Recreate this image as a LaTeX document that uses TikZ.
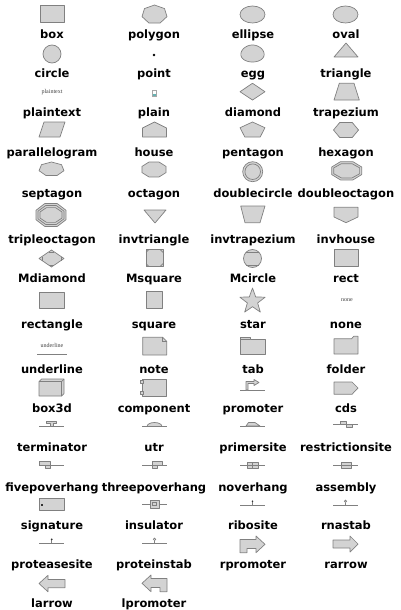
\documentclass[tikz,border=0pt]{standalone}
\usepackage{fontspec}
\newfontfamily\lblf{DejaVu Sans}
\newfontfamily\tinyf{Liberation Serif}
\definecolor{fillg}{RGB}{211,211,211}
\definecolor{lineg}{RGB}{128,128,128}
\newcommand\ngon[7]{% cx cy n rx ry start lastindex
  \draw[shp] plot[domain=0:#7, samples=#3] ({#1+#4*cos(#6+360*\x/#3)},{#2+#5*sin(#6+360*\x/#3)}) -- cycle;}
\begin{document}
\begin{tikzpicture}[x=1pt,y=-1pt,
  shp/.style={draw=lineg, fill=fillg, line width=0.7pt, line join=round},
  gline/.style={draw=lineg, line width=0.7pt},
  lbl/.style={font=\lblf\bfseries\fontsize{11.5}{13}\selectfont, anchor=base, inner sep=0pt},
  tiny/.style={font=\tinyf\fontsize{6}{7}\selectfont, text=black!75, inner sep=0pt}]
\useasboundingbox (0,0) rectangle (400,610);
% ---------------- labels
\foreach \y/\a/\b/\c/\d [count=\r] in {34/box/polygon/ellipse/oval, 73/circle/point/egg/triangle, 112/plaintext/plain/diamond/trapezium, 152/parallelogram/house/pentagon/hexagon, 193/septagon/octagon/doublecircle/doubleoctagon, 239/tripleoctagon/invtriangle/invtrapezium/invhouse, 278/Mdiamond/Msquare/Mcircle/rect, 324/rectangle/square/star/none, 369/underline/note/tab/folder, 408/box3d/component/promoter/cds, 447/terminator/utr/primersite/restrictionsite, 487/fivepoverhang/threepoverhang/noverhang/assembly, 525/signature/insulator/ribosite/rnastab, 564/proteasesite/proteinstab/rpromoter/rarrow}{
  \node[lbl] (la\r) at (52,\y+4.5) {\a};
  \node[lbl] (lb\r) at (154,\y+4.5) {\b};
  \node[lbl] (lc\r) at (253,\y+4.5) {\c};
  \node[lbl] (ld\r) at (346,\y+4.5) {\d};
}
\node[lbl] (la15) at (52,607.5) {larrow};
\node[lbl] (lb15) at (154,607.5) {lpromoter};
% ---------------- row 1
\draw[shp] (40,5) rectangle (64,22);
\ngon{154.5}{14.5}{7}{12.8}{9.5}{-90}{6}
\draw[shp] (252.5,14.5) ellipse [x radius=12.5, y radius=8.5];
\draw[shp] (345.5,14.5) ellipse [x radius=12.5, y radius=8.5];
% ---------------- row 2
\draw[shp] (52,54) circle [radius=9];
\fill (154,55) circle [radius=1.4];
\draw[shp] plot[domain=0:360, samples=72, smooth] ({252.5+11.6*cos(\x)*(1+0.1*sin(\x))},{53.5+8.5*sin(\x)}) -- cycle;
\draw[shp] (346,43) -- (358,57) -- (334,57) -- cycle;
% ---------------- row 3
\node[tiny] (pt) at (52,92) {plaintext};
\draw[black!35, fill=white, line width=0.4pt] (151.8,90.3) rectangle (156.6,96.5);
\fill[teal!60] (152.5,94.2) rectangle (155.9,95.8);
\draw[shp] (240,91.7) -- (252.5,83.3) -- (265,91.7) -- (252.5,100) -- cycle;
\draw[shp] (334,100) -- (339.3,83.3) -- (354,83.3) -- (359.3,100) -- cycle;
% ---------------- row 4
\draw[shp] (39,137) -- (44,122) -- (65,122) -- (60,137) -- cycle;
\draw[shp] (154.5,122) -- (166.5,128) -- (166.5,137) -- (142.5,137) -- (142.5,128) -- cycle;
\ngon{252.5}{130.3}{5}{13.1}{8.3}{-90}{4}
\ngon{346}{130}{6}{12.5}{8.7}{0}{5}
% ---------------- row 5
\ngon{51.5}{169.1}{7}{12.8}{7.1}{-90}{6}
\ngon{154}{169.5}{8}{13}{8.1}{22.5}{7}
\draw[shp] (252.7,171.7) circle [radius=10];
\draw[shp] (252.7,171.7) circle [radius=7.8];
\ngon{346.7}{170.8}{8}{16.2}{9.9}{22.5}{7}
\ngon{346.7}{170.8}{8}{14}{7.7}{22.5}{7}
% ---------------- row 6
\ngon{51}{215}{8}{16.2}{12.4}{22.5}{7}
\ngon{51}{215}{8}{14}{10.2}{22.5}{7}
\ngon{51}{215}{8}{11.8}{8}{22.5}{7}
\draw[shp] (144,210) -- (166,210) -- (155,223) -- cycle;
\draw[shp] (240.7,206) -- (265,206) -- (260,222.7) -- (245,222.7) -- cycle;
\draw[shp] (334,207.3) -- (358,207.3) -- (358,217) -- (346,222.7) -- (334,217) -- cycle;
% ---------------- row 7
\draw[shp] (39,258.5) -- (51.5,250) -- (64,258.5) -- (51.5,267) -- cycle;
\draw[gline] (42,256.5) -- (42,260.5) (61,256.5) -- (61,260.5)
  (48.6,252) -- (54.4,252) (48.6,265) -- (54.4,265);
\draw[shp] (146,249.3) rectangle (163,266.7);
\draw[gline] (146,252.3) -- (149,249.3) (160,249.3) -- (163,252.3)
  (146,263.7) -- (149,266.7) (160,266.7) -- (163,263.7);
\draw[shp] (252.5,258.5) circle [radius=9];
\draw[gline] (246.3,252) -- (258.7,252) (246.3,265) -- (258.7,265);
\draw[shp] (334,249.3) rectangle (358,266);
% ---------------- row 8
\draw[shp] (39,292) rectangle (64,308);
\draw[shp] (146.7,291.7) rectangle (162.7,308.3);
\begin{scope}[shift={(252.5,301.3)}]
\draw[shp] (-90:13.3) -- (-54:5.4) -- (-18:13.3) -- (18:5.4) -- (54:13.3) -- (90:5.4)
  -- (126:13.3) -- (162:5.4) -- (198:13.3) -- (234:5.4) -- cycle;
\end{scope}
\node[tiny] (nn) at (347,300) {none};
% ---------------- row 9
\node[tiny] (ul) at (52,345) {underline};
\draw[gline] (37,354) -- (67,354);
\draw[shp] (142.7,337.3) -- (162.7,337.3) -- (166.7,341.3) -- (166.7,355) -- (142.7,355) -- cycle;
\draw[gline] (162.7,337.3) -- (162.7,341.3) -- (166.7,341.3);
\draw[shp] (240,354) -- (240,337) -- (250,337) -- (250,339.3) -- (265,339.3) -- (265,354) -- cycle;
\draw[gline] (240,339.3) -- (250,339.3);
\draw[shp] (334,354) -- (334,338.8) -- (351.5,338.8) -- (353.8,336.3) -- (358,336.3) -- (358,354) -- cycle;
% ---------------- row 10
\draw[shp] (39,381.5) -- (41.5,379) -- (64,379) -- (64,393.5) -- (61.5,396) -- (39,396) -- cycle;
\draw[gline] (39,381.5) -- (61.5,381.5) -- (64,379) (61.5,381.5) -- (61.5,396);
\draw[shp] (142,379) rectangle (166,396);
\draw[shp] (140.8,380.8) rectangle (143.6,383.4);
\draw[shp] (140.8,391.6) rectangle (143.6,394.2);
\draw[gline] (240,390) -- (265,390);
\draw[shp] (246,390) -- (246,381.5) -- (254,381.5) -- (254,379.5) -- (259,382.5) -- (254,385.5) -- (254,383.5) -- (248,383.5) -- (248,390) -- cycle;
\draw[shp] (334,382) -- (352,382) -- (358,388) -- (352,394.3) -- (334,394.3) -- cycle;
% ---------------- row 11
\draw[gline] (39,426.5) -- (64,426.5);
\draw[shp] (46.5,421.5) -- (56.5,421.5) -- (56.5,423.5) -- (53,423.5) -- (53,426.5) -- (50,426.5) -- (50,423.5) -- (46.5,423.5) -- cycle;
\draw[gline] (142,426.5) -- (167,426.5);
\draw[shp] (147,426.5) arc[start angle=180, end angle=360, x radius=7.5, y radius=4] -- cycle;
\draw[gline] (240,426) -- (265,426);
\draw[shp] (246,426) -- (248.5,422.5) -- (255,422.5) -- (260,426) -- cycle;
\draw[gline] (333,424.5) -- (340,424.5) (352,424.5) -- (358,424.5);
\draw[shp] (340,424.5) -- (340,421.5) -- (346,421.5) -- (346,424.5) -- cycle;
\draw[shp] (346,424.5) -- (346,427.2) -- (352,427.2) -- (352,424.5) -- cycle;
% ---------------- row 12
\draw[gline] (39,465) -- (64,465);
\draw[shp] (39,461.7) rectangle (50,465);
\draw[shp] (45,465) rectangle (50,468.3);
\draw[gline] (142,465) -- (167,465);
\draw[shp] (152,461.7) rectangle (162,465);
\draw[shp] (152,465) rectangle (157,468.3);
\draw[shp] (247,462) rectangle (252.5,468);
\draw[shp] (252.5,462) rectangle (258,468);
\draw[gline] (240,465) -- (265,465);
\draw[shp] (341,462) rectangle (351,468);
\draw[gline] (333,465) -- (358,465);
% ---------------- row 13
\draw[shp] (39,498) rectangle (64,510);
\fill[black!80] (41.3,503.6) rectangle (43,505.6);
\draw[gline] (142,504) -- (167,504);
\draw[shp] (150,500) rectangle (159,508);
\draw[gline] (152.2,502.2) rectangle (156.8,505.8);
\draw[gline] (240,505) -- (265,505) (252.5,505) -- (252.5,501.8);
\fill[black!80] (252.5,501.2) circle [radius=0.9];
\draw[gline] (333,505) -- (358,505) (345.5,505) -- (345.5,502.5);
\draw[gline, fill=white] (345.5,501.3) circle [radius=1.1];
% ---------------- row 14
\draw[gline] (39,543) -- (64,543) (51.7,543) -- (51.7,540);
\fill[black!80] (51.7,539.3) circle [radius=1];
\draw[gline] (142,543) -- (167,543) (154.5,543) -- (154.5,540.6);
\draw[gline, fill=white] (154.5,539.3) circle [radius=1.2];
\draw[shp] (240,539.5) -- (256,539.5) -- (256,536) -- (265,544.3) -- (256,552.7) -- (256,548.5) -- (247,548.5) -- (247,552.7) -- (240,552.7) -- cycle;
\draw[shp] (333,540) -- (350,540) -- (350,536) -- (358,544) -- (350,552) -- (350,548) -- (333,548) -- cycle;
% ---------------- row 15
\draw[shp] (65,579.5) -- (48,579.5) -- (48,575.3) -- (39,583.5) -- (48,591.8) -- (48,587.7) -- (65,587.7) -- cycle;
\draw[shp] (167,578.5) -- (151,578.5) -- (151,575) -- (142,583.3) -- (151,591.7) -- (151,587.5) -- (160,587.5) -- (160,591.7) -- (167,591.7) -- cycle;
\end{tikzpicture}
\end{document}
